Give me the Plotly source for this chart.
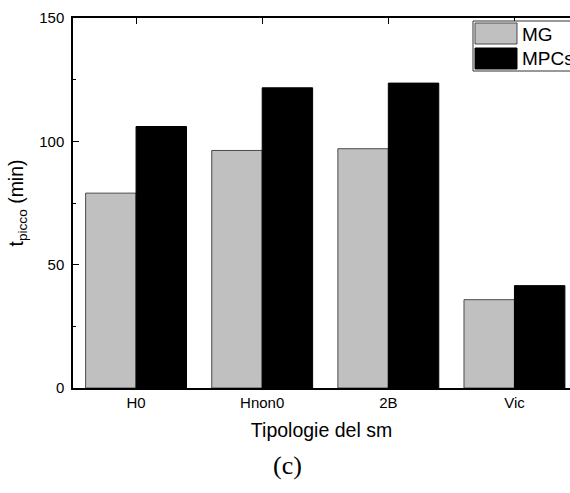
import plotly.graph_objects as go

# Data
categories = ["H0", "Hnon0", "2B", "Vic"]
series_names = ["MG", "MPCs"]
mg_values = [79.0, 96.3, 97.0, 35.8]
mpcs_values = [106.0, 121.7, 123.6, 41.5]
y_ticks = [0, 50, 100, 150]

W, H = 570, 493
L, R, T, B = 73, 0, 18, 105
plot_w = W - L - R
plot_h = H - T - B

def px_x(p):
    return (p - L) / plot_w

def px_y(p):
    return 1 - (p - T) / plot_h

fig = go.Figure()
fig.add_trace(go.Bar(
    x=categories, y=mg_values, name=series_names[0],
    marker=dict(color="#c0c0c0", line=dict(color="#4a4a4a", width=1)),
))
fig.add_trace(go.Bar(
    x=categories, y=mpcs_values, name=series_names[1],
    marker=dict(color="#000000", line=dict(color="#000000", width=1)),
))

font = "Liberation Sans, Arial, sans-serif"

# Hand-built legend box in the top-right corner
shapes = [
    dict(type="rect", xref="paper", yref="paper",
         x0=px_x(473), x1=px_x(640), y0=px_y(71), y1=px_y(21),
         line=dict(color="#333333", width=1), fillcolor="white", layer="above"),
    dict(type="rect", xref="paper", yref="paper",
         x0=px_x(475), x1=px_x(517), y0=px_y(44), y1=px_y(23),
         line=dict(color="#4a4a4a", width=1), fillcolor="#c0c0c0", layer="above"),
    dict(type="rect", xref="paper", yref="paper",
         x0=px_x(475), x1=px_x(517), y0=px_y(69), y1=px_y(48),
         line=dict(color="#000000", width=1), fillcolor="#000000", layer="above"),
]
annotations = [
    dict(text=series_names[0], xref="paper", yref="paper", x=px_x(520), y=px_y(34),
         xanchor="left", yanchor="middle", showarrow=False,
         font=dict(family=font, size=19, color="black")),
    dict(text=series_names[1], xref="paper", yref="paper", x=px_x(520), y=px_y(58),
         xanchor="left", yanchor="middle", showarrow=False,
         font=dict(family=font, size=19, color="black")),
    dict(text="(c)", xref="paper", yref="paper", x=px_x(287), y=px_y(465),
         xanchor="center", yanchor="middle", showarrow=False,
         font=dict(family="Liberation Serif, DejaVu Serif, serif", size=26, color="black")),
]

fig.update_layout(
    width=W, height=H,
    margin=dict(l=L, r=R, t=T, b=B, pad=0),
    paper_bgcolor="white", plot_bgcolor="white",
    barmode="group", bargap=0.2, bargroupgap=0,
    showlegend=False,
    shapes=shapes, annotations=annotations,
    font=dict(family=font, color="black"),
)

fig.update_xaxes(
    range=[-0.5, 3 + (W - 514.5) / 126.0],
    showline=True, linecolor="black", linewidth=1.5,
    mirror="ticks", ticks="inside", ticklen=6, tickcolor="black", tickwidth=1,
    showgrid=False, zeroline=False,
    tickfont=dict(size=15, family=font),
    title=dict(text="Tipologie del sm", font=dict(size=19.5, family=font), standoff=14),
)
fig.update_yaxes(
    range=[0, 150], tickvals=y_ticks,
    showline=True, linecolor="black", linewidth=1.5,
    ticks="inside", ticklen=6, tickcolor="black", tickwidth=1,
    minor=dict(dtick=25, ticks="inside", ticklen=3, tickcolor="black"),
    showgrid=False, zeroline=False,
    tickfont=dict(size=15, family=font), ticklabelstandoff=4,
    title=dict(text="t<sub>picco</sub> (min)", font=dict(size=19.5, family=font), standoff=10),
)

fig.write_html("out.html")
